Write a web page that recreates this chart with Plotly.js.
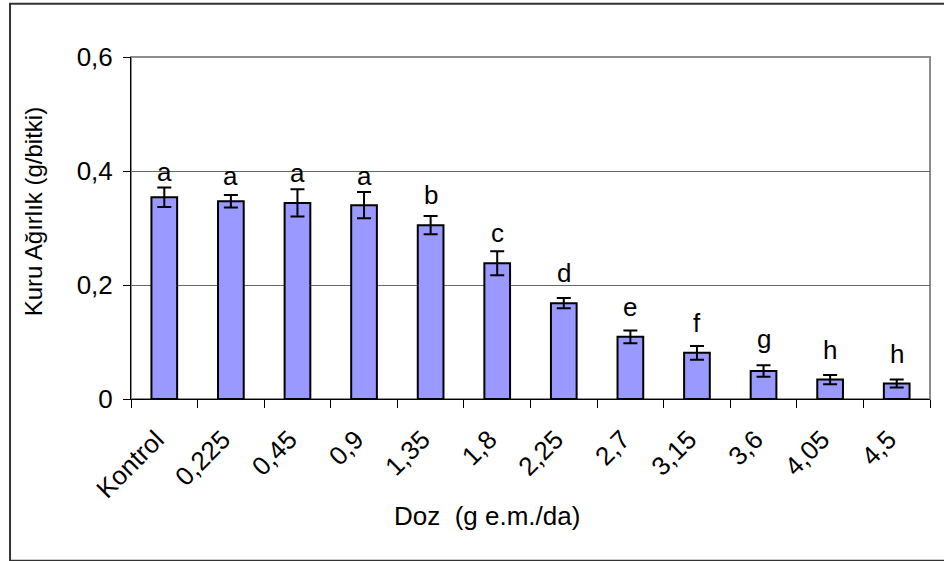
<!DOCTYPE html>
<html>
<head>
<meta charset="utf-8">
<script src="https://cdn.plot.ly/plotly-3.0.1.min.js"></script>
<style>
html,body{margin:0;padding:0;background:#fff;}
#chart{width:944px;height:561px;}
</style>
</head>
<body>
<div id="chart"></div>
<script>
// Data
const categories = ["Kontrol","0,225","0,45","0,9","1,35","1,8","2,25","2,7","3,15","3,6","4,05","4,5"];
const values = [0.354, 0.347, 0.344, 0.340, 0.305, 0.238, 0.168, 0.109, 0.081, 0.049, 0.034, 0.027];
const errors = [0.017, 0.011, 0.024, 0.023, 0.016, 0.021, 0.009, 0.011, 0.012, 0.010, 0.008, 0.007];
const letters = ["a","a","a","a","b","c","d","e","f","g","h","h"];
const letterY = [0.380, 0.374, 0.379, 0.374, 0.340, 0.273, 0.204, 0.143, 0.115, 0.088, 0.068, 0.061];
const yTickVals = [0, 0.2, 0.4, 0.6];
const yTickText = ["0", "0,2", "0,4", "0,6"];

const FONT = "Liberation Sans, Arial, sans-serif";
const FS = 26;

const trace = {
  type: "bar",
  x: categories,
  y: values,
  marker: {color: "#9999FF", line: {color: "#000000", width: 2}},
  error_y: {type: "data", array: errors, visible: true, color: "#000000", thickness: 2, width: 7},
  hoverinfo: "x+y"
};

const annotations = categories.map((c, i) => ({
  x: c, y: letterY[i], xref: "x", yref: "y",
  text: letters[i], showarrow: false,
  xanchor: "center", yanchor: "bottom", yshift: -7,
  font: {family: FONT, size: FS, color: "#000"}
}));

annotations.push({
  xref: "paper", yref: "paper", x: 0.4456, y: -0.3414,
  text: "Doz  (g e.m./da)", showarrow: false,
  xanchor: "center", yanchor: "middle",
  font: {family: FONT, size: FS, color: "#000"}
});
annotations.push({
  xref: "paper", yref: "paper", x: -0.121, y: 0.547,
  text: "Kuru Ağırlık (g/bitki)", showarrow: false, textangle: -90,
  xanchor: "center", yanchor: "middle",
  font: {family: FONT, size: 24, color: "#000"}
});

const layout = {
  width: 944, height: 561,
  margin: {l: 131, r: 14, t: 57, b: 162, pad: 0},
  paper_bgcolor: "#ffffff", plot_bgcolor: "#ffffff",
  showlegend: false,
  bargap: 0.614,
  font: {family: FONT, size: FS, color: "#000"},
  xaxis: {
    type: "category",
    tickangle: -45,
    ticks: "outside", ticklen: 8, tickwidth: 1, tickcolor: "#000",
    tickson: "boundaries",
    ticklabelstandoff: 14,
    ticklabelshift: -8,
    showline: true, linecolor: "#000", linewidth: 1,
    showgrid: false,
    tickfont: {family: FONT, size: FS, color: "#000"},
    automargin: false
  },
  yaxis: {
    range: [0, 0.6],
    tickvals: yTickVals, ticktext: yTickText,
    ticks: "outside", ticklen: 7, tickwidth: 1, tickcolor: "#000",
    ticklabelstandoff: 5,
    showline: true, linecolor: "#000", linewidth: 1,
    showgrid: true, gridcolor: "#666666", gridwidth: 1,
    zeroline: false,
    tickfont: {family: FONT, size: FS, color: "#000"},
    automargin: false
  },
  annotations: annotations,
  shapes: [
    {type: "rect", xref: "paper", yref: "paper", x0: 0, x1: 1, y0: 0, y1: 1,
     line: {color: "#8c8c8c", width: 2}, layer: "below"},
    {type: "path", xref: "paper", yref: "paper",
     path: "M 1.03 1.156 L -0.1514 1.156 L -0.1514 -0.4733 L 1.03 -0.4733",
     line: {color: "#333333", width: 2}}
  ]
};

Plotly.newPlot("chart", [trace], layout, {staticPlot: true, displayModeBar: false});
</script>
</body>
</html>
